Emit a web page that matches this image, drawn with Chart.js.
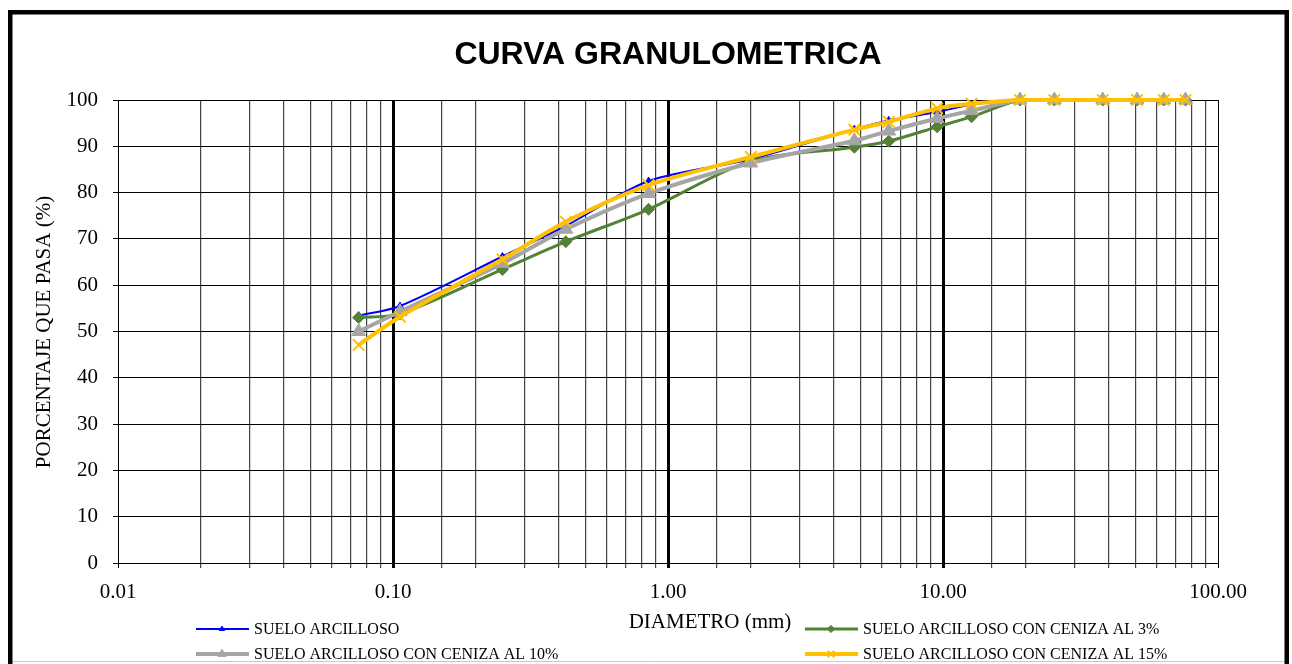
<!DOCTYPE html>
<html>
<head>
<meta charset="utf-8">
<script src="https://cdn.jsdelivr.net/npm/chart.js@4.4.0/dist/chart.umd.min.js"></script>
<style>
	html, body { margin: 0; padding: 0; background: #fff; }
	canvas { display: block; }
</style>
</head>
<body>
<canvas id="curva" width="1292" height="664"></canvas>
<script>
// tamices (mm) y porcentaje que pasa
let diametros = [76.2, 63.5, 50.8, 38.1, 25.4, 19.05, 12.7, 9.525, 6.35, 4.76, 2.00, 0.85, 0.425, 0.25, 0.106, 0.075];

let sueloArcilloso = [100, 100, 100, 100, 100, 100, 99.0, 97.4, 95.6, 93.7, 87.2, 82.5, 72.8, 66.2, 55.5, 53.4];
let ceniza3 = [100, 100, 100, 100, 100, 100, 96.4, 94.2, 91.1, 89.8, 86.8, 76.4, 69.4, 63.4, 53.8, 53.0];
let ceniza10 = [100, 100, 100, 100, 100, 100, 97.7, 96.0, 93.3, 91.2, 86.4, 79.8, 72.1, 64.7, 54.3, 50.0];
let ceniza15 = [100, 100, 100, 100, 100, 100, 99.2, 98.2, 95.3, 93.6, 87.7, 81.6, 73.7, 65.6, 53.2, 47.1];

let etiquetas = ['SUELO ARCILLOSO', 'SUELO ARCILLOSO CON CENIZA AL 3%', 'SUELO ARCILLOSO CON CENIZA AL 10%', 'SUELO ARCILLOSO CON CENIZA AL 15%'];
let titulo = 'CURVA GRANULOMETRICA',
	tituloX = 'DIAMETRO (mm)',
	tituloY = 'PORCENTAJE QUE PASA (%)';

const serif = '"Liberation Serif", "Times New Roman", serif';

function puntos(valores) {
	return diametros.map((d, i) => ({ x : d, y : valores[i] }));
}

function esDecada(v) {
	let l = Math.log10(v);
	return Math.abs(l - Math.round(l)) < 1e-6;
}

const marco = {
	id : 'marco',
	beforeDraw(chart) {
		let c = chart.ctx;
		c.save();
		c.fillStyle = '#fff';
		c.fillRect(0, 0, chart.width, chart.height);
		c.restore();
	},
	afterDraw(chart) {
		let c = chart.ctx;
		c.save();
		c.fillStyle = '#000';
		c.textAlign = 'center';
		c.textBaseline = 'middle';
		c.font = 'bold 32px "Liberation Sans", Arial, sans-serif';
		c.fillText(titulo, 668, 55);

		c.font = '21px ' + serif;
		c.fillText(tituloX, 710, 622);

		c.save();
		c.translate(44, 332);
		c.rotate(-Math.PI / 2);
		c.fillText(tituloY, 0, 0);
		c.restore();

		// leyenda en dos columnas
		c.textAlign = 'left';
		c.font = '16px ' + serif;
		chart.data.datasets.forEach((ds, i) => {
			let x0 = (i % 2) ? 805 : 196,
				y = (i < 2) ? 629 : 654;
			c.strokeStyle = ds.borderColor;
			c.lineWidth = ds.borderWidth;
			c.beginPath();
			c.moveTo(x0, y);
			c.lineTo(x0 + 53, y);
			c.stroke();
			c.fillStyle = ds.pointBackgroundColor;
			c.strokeStyle = ds.pointBorderColor;
			c.lineWidth = ds.pointBorderWidth;
			Chart.helpers.drawPoint(c, {
				pointStyle  : ds.pointStyle,
				radius      : Math.max(3, ds.pointRadius * 0.6),
				borderWidth : ds.pointBorderWidth,
				rotation    : 0
			}, x0 + 26, y);
			c.fillStyle = '#000';
			c.fillText(ds.label, x0 + 58, y + 1);
		});

		c.strokeStyle = '#c8c8c8';
		c.lineWidth = 1;
		c.beginPath();
		c.moveTo(12, 661.5);
		c.lineTo(1285, 661.5);
		c.stroke();

		c.strokeStyle = '#000';
		c.lineWidth = 4.5;
		c.strokeRect(10.25, 12.25, 1276.5, 700);
		c.restore();
	}
};

let ctx = document.getElementById('curva').getContext('2d');

let chartCurva = new Chart(ctx, {
	type : 'line',
	data : {
		datasets : [
			{
				label                : etiquetas[0],
				data                 : puntos(sueloArcilloso),
				borderColor          : '#0000ff',
				borderWidth          : 2,
				pointStyle           : 'triangle',
				pointRadius          : 4,
				pointBackgroundColor : '#0000ff',
				pointBorderColor     : '#0000ff',
				pointBorderWidth     : 1,
				order                : 4
			},
			{
				label                : etiquetas[1],
				data                 : puntos(ceniza3),
				borderColor          : '#548235',
				borderWidth          : 3,
				pointStyle           : 'rectRot',
				pointRadius          : 6,
				pointBackgroundColor : '#548235',
				pointBorderColor     : '#548235',
				pointBorderWidth     : 1,
				order                : 3
			},
			{
				label                : etiquetas[2],
				data                 : puntos(ceniza10),
				borderColor          : '#a5a5a5',
				borderWidth          : 4,
				pointStyle           : 'triangle',
				pointRadius          : 8,
				pointBackgroundColor : '#a5a5a5',
				pointBorderColor     : '#a5a5a5',
				pointBorderWidth     : 1,
				order                : 2
			},
			{
				label                : etiquetas[3],
				data                 : puntos(ceniza15),
				borderColor          : '#ffc000',
				borderWidth          : 4,
				pointStyle           : 'crossRot',
				pointRadius          : 8,
				pointBackgroundColor : '#ffc000',
				pointBorderColor     : '#ffc000',
				pointBorderWidth     : 2,
				order                : 1
			}
		]
	},
	options : {
		responsive          : false,
		devicePixelRatio    : 1,
		animation           : false,
		events              : [],
		layout              : { padding : { left : 0, top : 100, right : 74, bottom : 61 } },
		elements            : { line : { tension : 0.3, fill : false } },
		datasets            : { line : { clip : false } },
		plugins             : { legend : { display : false }, title : { display : false }, tooltip : { enabled : false } },
		scales              : {
			x : {
				type   : 'logarithmic',
				min    : 0.01,
				max    : 100,
				afterFit(scale) { scale.height = 40; },
				border : { display : true, color : '#000', width : 1 },
				grid   : {
					drawTicks  : true,
					tickLength : 5,
					color      : function(context) {
						let v = context.tick ? context.tick.value : 1;
						return esDecada(v) ? '#000' : '#444';
					},
					lineWidth  : function(context) {
						let v = context.tick ? context.tick.value : 1;
						if (v <= 0.01 || v >= 100) return 1;
						return esDecada(v) ? 3 : 1.2;
					}
				},
				ticks  : {
					autoSkip    : false,
					maxRotation : 0,
					padding     : 12,
					color       : '#000',
					font        : { family : serif, size : 21 },
					callback    : function(value) {
						return esDecada(value) ? Number(value).toFixed(2) : '';
					}
				}
			},
			y : {
				min    : 0,
				max    : 100,
				afterFit(scale) { scale.width = 118; },
				border : { display : true, color : '#000', width : 1 },
				grid   : { color : '#000', lineWidth : 1, tickLength : 5 },
				ticks  : {
					stepSize : 10,
					padding  : 15,
					color    : '#000',
					font     : { family : serif, size : 21 }
				}
			}
		}
	},
	plugins : [marco]
});
</script>
</body>
</html>
